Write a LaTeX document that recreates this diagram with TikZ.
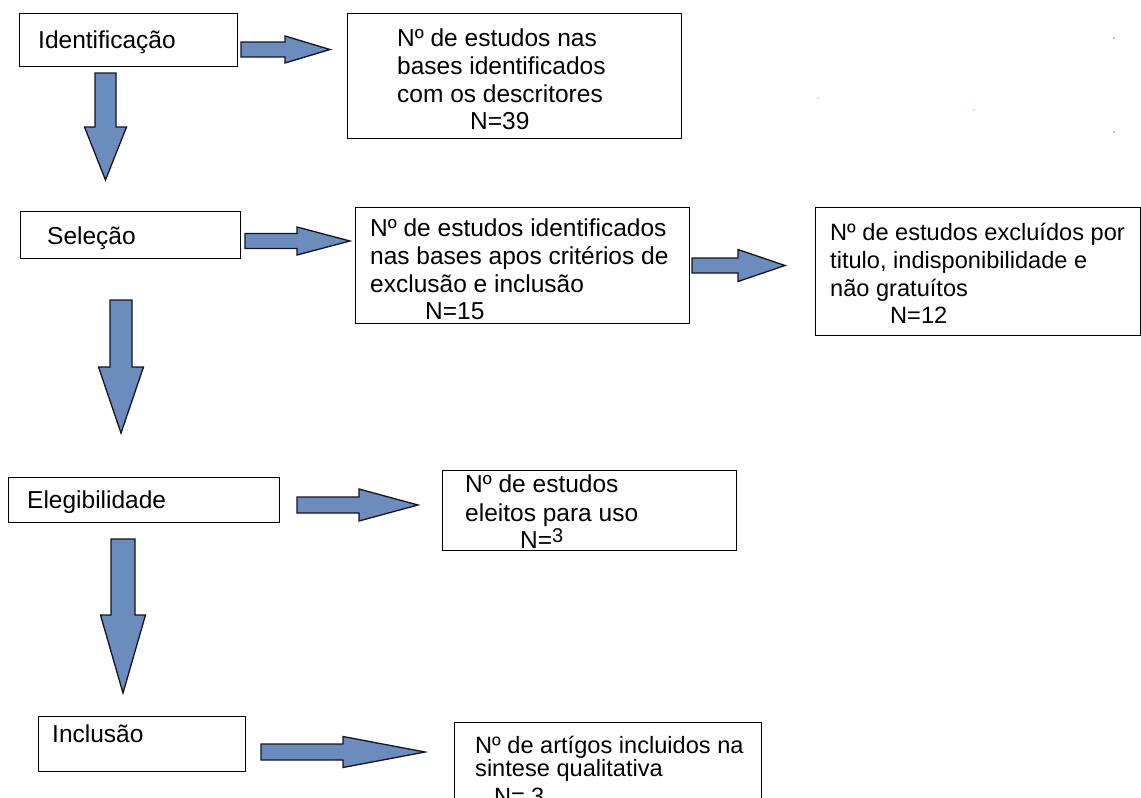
\documentclass[tikz,border=0pt]{standalone}
\usepackage{fontspec}
\setmainfont{Liberation Sans}
\definecolor{arrowblue}{RGB}{108,140,190}
\definecolor{arrowedge}{RGB}{20,20,30}
\begin{document}
\begin{tikzpicture}[x=1pt,y=-1pt,
  box/.style={draw=black, line width=1.4pt, fill=white, inner sep=0pt, anchor=north west},
  txt/.style={anchor=base west, inner sep=0pt, font=\fontsize{24.5}{28}\selectfont, text=black},
  txtsm/.style={txt, font=\fontsize{23.6}{28}\selectfont},
  blockarrow/.style={draw=arrowedge, line width=1.3pt, fill=arrowblue, line join=miter},
  speck/.style={inner sep=0pt, minimum size=1.6pt, circle}
]
\useasboundingbox (0,0) rectangle (1141,798);
\clip (0,0) rectangle (1141,798);
\newcommand{\rarr}[6]{% x0, x1(head start), x2(tip), yc, shaft half, head half
  \draw[blockarrow] (#1,#4-#5) -- (#2,#4-#5) -- (#2,#4-#6) -- (#3,#4) -- (#2,#4+#6) -- (#2,#4+#5) -- (#1,#4+#5) -- cycle;}
\newcommand{\darr}[6]{% xc, y0, y1(head start), y2(tip), shaft half, head half
  \draw[blockarrow] (#1-#5,#2) -- (#1+#5,#2) -- (#1+#5,#3) -- (#1+#6,#3) -- (#1,#4) -- (#1-#6,#3) -- (#1-#5,#3) -- cycle;}

% boxes
\node[box, minimum width=218pt, minimum height=53pt] (b1) at (19,13) {};
\node[box, minimum width=334pt, minimum height=125pt] (b2) at (347,13) {};
\node[box, minimum width=220pt, minimum height=47pt] (b3) at (20,211) {};
\node[box, minimum width=334pt, minimum height=116pt] (b4) at (355,207) {};
\node[box, minimum width=325pt, minimum height=128pt] (b5) at (815,207) {};
\node[box, minimum width=271pt, minimum height=45pt] (b6) at (8,477) {};
\node[box, minimum width=294pt, minimum height=80pt] (b7) at (442,470) {};
\node[box, minimum width=207pt, minimum height=55pt] (b8) at (38,716) {};
\node[box, minimum width=307pt, minimum height=120pt] (b9) at (454,722) {};

% texts
\node[txt] (t1) at (38,48) {Identificação};
\node[txt] (t2a) at (397,46) {Nº de estudos nas};
\node[txt] (t2b) at (397,74) {bases identificados};
\node[txt] (t2c) at (397,102) {com os descritores};
\node[txt] (t2d) at (470,129) {N=39};
\node[txt] (t3) at (47,244) {Seleção};
\node[txt] (t4a) at (370,236) {Nº de estudos identificados};
\node[txt] (t4b) at (370,264) {nas bases apos critérios de};
\node[txt] (t4c) at (370,292) {exclusão e inclusão};
\node[txt] (t4d) at (425,319) {N=15};
\node[txtsm] (t5a) at (830,240) {Nº de estudos excluídos por};
\node[txtsm] (t5b) at (830,268) {titulo, indisponibilidade e};
\node[txtsm] (t5c) at (830,296) {não gratuítos};
\node[txtsm] (t5d) at (890,323) {N=12};
\node[txt] (t6) at (27,508) {Elegibilidade};
\node[txt] (t7a) at (465,492) {Nº de estudos};
\node[txt] (t7b) at (465,521) {eleitos para uso};
\node[txt] (t7c) at (520,548) {N=\smash{\raisebox{6pt}{\fontsize{20}{20}\selectfont 3}}};
\node[txt] (t8) at (52,742) {Inclusão};
\node[txtsm] (t9a) at (475,753) {Nº de artígos incluidos na};
\node[txtsm] (t9b) at (475,776) {sintese qualitativa};
\node[txtsm] (t9c) at (494,804) {N=\hspace{6pt}3};

% block arrows (right)
\rarr{241}{285}{330}{49.5}{7.5}{13.5}
\rarr{245}{297}{350}{241}{7.5}{14}
\rarr{692}{738}{785}{265.5}{7.5}{16}
\rarr{297}{359}{418}{505}{8}{16}
\rarr{261}{343}{425}{752}{8}{15.5}
% block arrows (down)
\darr{105.5}{73}{127}{180}{10.5}{21}
\darr{121}{300}{367}{433}{11}{22.5}
\darr{123}{539}{615}{693}{12}{22.5}

% specks
\node[speck, fill=gray] (s1) at (1114,38) {};
\node[speck, fill=orange!60] (s2) at (818,98) {};
\node[speck, fill=orange!60] (s3) at (974,110) {};
\node[speck, fill=gray] (s4) at (1114,132) {};
\end{tikzpicture}
\end{document}
